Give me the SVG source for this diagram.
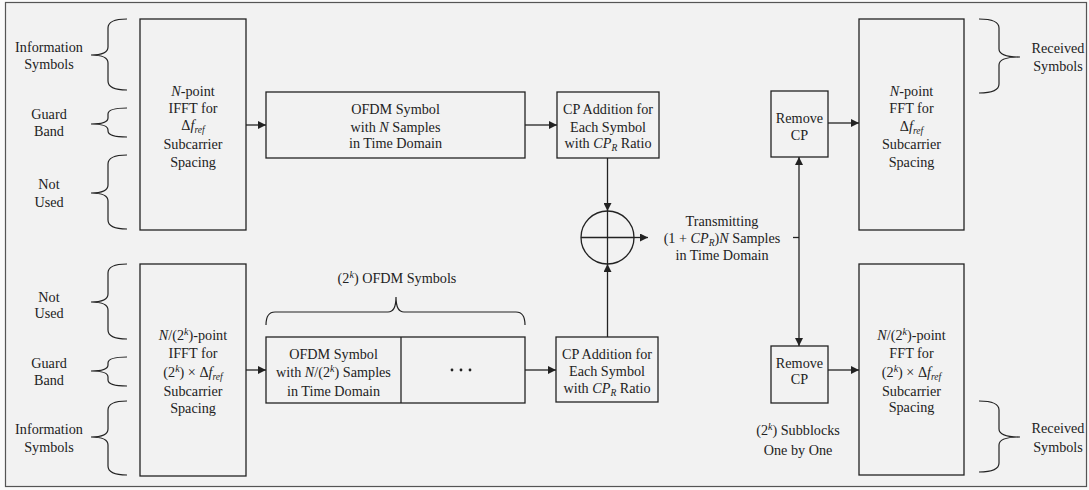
<svg xmlns="http://www.w3.org/2000/svg" width="1089" height="490" viewBox="0 0 1089 490">
<defs>
<style>
text{font-family:"Liberation Serif","Times New Roman",serif;font-size:14.2px;fill:#222;text-anchor:middle}
.i{font-style:italic}
.sup{font-size:10px;font-style:italic;baseline-shift:5px}
.sub{font-size:9.5px;font-style:italic;baseline-shift:-2.5px}
.box{fill:none;stroke:#222;stroke-width:1.3}
.ln{fill:none;stroke:#222;stroke-width:1.3}
.br{fill:none;stroke:#222;stroke-width:1.2}
</style>
<marker id="ah" viewBox="0 0 10 10" refX="10" refY="5" markerWidth="8" markerHeight="8" markerUnits="userSpaceOnUse" orient="auto-start-reverse">
<path d="M0,0 L10,5 L0,10 Z" fill="#222"/>
</marker>
</defs>
<rect x="0" y="0" width="1089" height="490" fill="#fafafa"/>
<rect x="5.5" y="2.5" width="1081" height="484" fill="#f2f2f2" stroke="#555" stroke-width="1.2"/>

<g id="labels-left-top">
<text x="49" y="52">Information</text><text x="49" y="69">Symbols</text>
<path class="br" d="M127,19 Q108,19 108,28 L108,47 Q108,55 91,55 Q108,55 108,63 L108,81 Q108,90 127,90"/>
<text x="49" y="119">Guard</text><text x="49" y="136">Band</text>
<path class="br" d="M127,108 Q108,108 108,114 L108,118 Q108,124 91,124 Q108,124 108,130 L108,131 Q108,137 127,137"/>
<text x="49" y="189">Not</text><text x="49" y="207">Used</text>
<path class="br" d="M127,155 Q108,155 108,164 L108,185 Q108,193 91,193 Q108,193 108,201 L108,220 Q108,229 127,229"/>
</g>

<g id="labels-left-bottom">
<text x="49" y="302">Not</text><text x="49" y="318">Used</text>
<path class="br" d="M127,264 Q108,264 108,273 L108,294 Q108,302 91,302 Q108,302 108,310 L108,330 Q108,339 127,339"/>
<text x="49" y="368">Guard</text><text x="49" y="385">Band</text>
<path class="br" d="M127,357 Q108,357 108,363 L108,365 Q108,371 91,371 Q108,371 108,377 L108,380 Q108,386 127,386"/>
<text x="49" y="434">Information</text><text x="49" y="452">Symbols</text>
<path class="br" d="M127,401 Q108,401 108,410 L108,429 Q108,437 91,437 Q108,437 108,445 L108,466 Q108,475 127,475"/>
</g>

<g id="ifft-top">
<rect class="box" x="140" y="19" width="106" height="211"/>
<text x="193" y="96"><tspan class="i">N</tspan>-point</text>
<text x="193" y="113">IFFT for</text>
<text x="193" y="130">Δ<tspan class="i">f</tspan><tspan class="sub">ref</tspan></text>
<text x="193" y="149">Subcarrier</text>
<text x="193" y="167">Spacing</text>
</g>

<g id="ifft-bottom">
<rect class="box" x="140" y="264" width="106" height="212"/>
<text x="193" y="340"><tspan class="i">N</tspan>/(2<tspan class="sup">k</tspan>)-point</text>
<text x="193" y="358">IFFT for</text>
<text x="193" y="377">(2<tspan class="sup">k</tspan>) × Δ<tspan class="i">f</tspan><tspan class="sub">ref</tspan></text>
<text x="193" y="396">Subcarrier</text>
<text x="193" y="413">Spacing</text>
</g>

<g id="ofdm-top">
<rect class="box" x="266" y="92" width="259" height="66"/>
<text x="395.5" y="114">OFDM Symbol</text>
<text x="395.5" y="132">with <tspan class="i">N</tspan> Samples</text>
<text x="395.5" y="148">in Time Domain</text>
</g>

<g id="ofdm-bottom">
<rect class="box" x="266" y="337" width="259" height="66"/>
<line class="ln" x1="401" y1="337" x2="401" y2="403"/>
<text x="333.5" y="359">OFDM Symbol</text>
<text x="333.5" y="377">with <tspan class="i">N</tspan>/(2<tspan class="sup">k</tspan>) Samples</text>
<text x="333.5" y="396">in Time Domain</text>
<circle cx="452" cy="370" r="1.4" fill="#222"/>
<circle cx="461" cy="370" r="1.4" fill="#222"/>
<circle cx="470" cy="370" r="1.4" fill="#222"/>
<path class="br" d="M266,325 Q266,312 275,312 L388,312 Q396,312 396,297 Q396,312 404,312 L516,312 Q525,312 525,325"/>
<text x="397" y="283">(2<tspan class="sup">k</tspan>) OFDM Symbols</text>
</g>

<g id="cp-top">
<rect class="box" x="557" y="92" width="102" height="66"/>
<text x="608" y="114">CP Addition for</text>
<text x="608" y="132">Each Symbol</text>
<text x="608" y="148">with <tspan class="i">CP</tspan><tspan class="sub">R</tspan> Ratio</text>
</g>

<g id="cp-bottom">
<rect class="box" x="556" y="337" width="102" height="65"/>
<text x="607" y="359">CP Addition for</text>
<text x="607" y="376">Each Symbol</text>
<text x="607" y="393">with <tspan class="i">CP</tspan><tspan class="sub">R</tspan> Ratio</text>
</g>

<g id="adder">
<circle class="ln" cx="607.5" cy="237.5" r="26.5" fill="none"/>
<line class="ln" x1="581" y1="237.5" x2="634" y2="237.5"/>
<line class="ln" x1="607.5" y1="211" x2="607.5" y2="264"/>
</g>

<g id="tx-label">
<text x="722" y="226">Transmitting</text>
<text x="722" y="243">(1 + <tspan class="i">CP</tspan><tspan class="sub">R</tspan>)<tspan class="i">N</tspan> Samples</text>
<text x="722" y="260">in Time Domain</text>
</g>

<g id="remove-top">
<rect class="box" x="771" y="91" width="57" height="66"/>
<text x="799.5" y="123">Remove</text>
<text x="799.5" y="140">CP</text>
</g>

<g id="remove-bottom">
<rect class="box" x="771" y="346" width="57" height="57"/>
<text x="799.5" y="368">Remove</text>
<text x="799.5" y="384">CP</text>
<text x="798" y="435">(2<tspan class="sup">k</tspan>) Subblocks</text>
<text x="798" y="455">One by One</text>
</g>

<g id="fft-top">
<rect class="box" x="859" y="19" width="105" height="211"/>
<text x="911.5" y="96"><tspan class="i">N</tspan>-point</text>
<text x="911.5" y="113">FFT for</text>
<text x="911.5" y="131">Δ<tspan class="i">f</tspan><tspan class="sub">ref</tspan></text>
<text x="911.5" y="149">Subcarrier</text>
<text x="911.5" y="167">Spacing</text>
</g>

<g id="fft-bottom">
<rect class="box" x="859" y="264" width="105" height="211"/>
<text x="911.5" y="340"><tspan class="i">N</tspan>/(2<tspan class="sup">k</tspan>)-point</text>
<text x="911.5" y="358">FFT for</text>
<text x="911.5" y="377">(2<tspan class="sup">k</tspan>) × Δ<tspan class="i">f</tspan><tspan class="sub">ref</tspan></text>
<text x="911.5" y="396">Subcarrier</text>
<text x="911.5" y="412">Spacing</text>
</g>

<g id="labels-right">
<path class="br" d="M979,19 Q999,19 999,28 L999,49 Q999,57 1020,57 Q999,57 999,65 L999,84 Q999,93 979,93"/>
<text x="1058" y="53">Received</text><text x="1058" y="71">Symbols</text>
<path class="br" d="M979,401 Q999,401 999,410 L999,429 Q999,437 1020,437 Q999,437 999,445 L999,463 Q999,472 979,472"/>
<text x="1058" y="433">Received</text><text x="1058" y="452">Symbols</text>
</g>

<g id="connectors">
<line class="ln" x1="246" y1="125" x2="266" y2="125" marker-end="url(#ah)"/>
<line class="ln" x1="525" y1="125" x2="557" y2="125" marker-end="url(#ah)"/>
<line class="ln" x1="246" y1="370" x2="266" y2="370" marker-end="url(#ah)"/>
<line class="ln" x1="525" y1="370" x2="556" y2="370" marker-end="url(#ah)"/>
<line class="ln" x1="607.5" y1="158" x2="607.5" y2="211" marker-end="url(#ah)"/>
<line class="ln" x1="607.5" y1="337" x2="607.5" y2="264" marker-end="url(#ah)"/>
<line class="ln" x1="634" y1="237.5" x2="648" y2="237.5" marker-end="url(#ah)"/>
<line class="ln" x1="793" y1="237.5" x2="799" y2="237.5"/>
<line class="ln" x1="799" y1="157" x2="799" y2="346" marker-start="url(#ah)" marker-end="url(#ah)"/>
<line class="ln" x1="828" y1="123" x2="859" y2="123" marker-end="url(#ah)"/>
<line class="ln" x1="828" y1="370" x2="859" y2="370" marker-end="url(#ah)"/>
</g>
</svg>
